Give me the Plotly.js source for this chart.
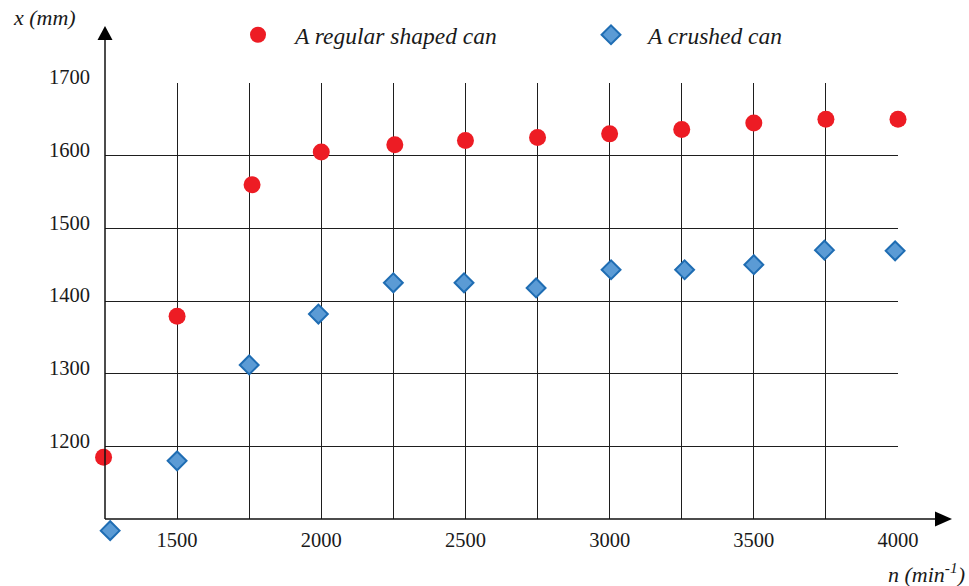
<!DOCTYPE html>
<html>
<head>
<meta charset="utf-8">
<script src="https://cdn.plot.ly/plotly-3.0.1.min.js"></script>
<style>html,body{margin:0;padding:0;background:#fff;}#chart{width:969px;height:586px;}</style>
</head>
<body>
<div id="chart"></div>
<script>
// Data
const seriesNames = ["A regular shaped can", "A crushed can"];
const nRegular = [1245, 1500, 1760, 2000, 2255, 2500, 2750, 3000, 3250, 3500, 3750, 4000];
const xRegular = [1185, 1379, 1560, 1605, 1615, 1621, 1625, 1630, 1636, 1645, 1650, 1650];
const nCrushed = [1268, 1500, 1750, 1990, 2250, 2495, 2745, 3005, 3260, 3500, 3745, 3990];
const xCrushed = [1084, 1180, 1312, 1382, 1425, 1425, 1418, 1443, 1443, 1450, 1470, 1469];
const xTickVals = [1500, 2000, 2500, 3000, 3500, 4000];
const yTickVals = [1200, 1300, 1400, 1500, 1600, 1700];
const xTitle = "n (min<sup>-1</sup>)";
const yTitle = "x (mm)";

const W = 969, H = 586;
// outer plotting area (paper) in pixels
const Lp = 50, Rp = 960, Tp = 20, Bp = 560;
// grid box in pixels
const gL = 105, gR = 898, gT = 83, gB = 519;
const X = p => (p - Lp) / (Rp - Lp);
const Y = p => (Bp - p) / (Bp - Tp);

const xMin = 1250, xMax = 4000, yMin = 1100, yMax = 1700;
const sx = (xMax - xMin) / (gR - gL), sy = (yMax - yMin) / (gB - gT);

const FONT = "Liberation Serif";
const GRID = "#1e1e1e";
const TXT = "#1a1a1a";

const traces = [
  // empty trace that makes the grid subplot (x, y) exist
  {type: "scatter", mode: "markers", x: [], y: [], xaxis: "x", yaxis: "y",
   showlegend: false, hoverinfo: "skip"},
  {
    type: "scatter", mode: "markers", name: seriesNames[0],
    x: nRegular, y: xRegular, xaxis: "x2", yaxis: "y2",
    marker: {symbol: "circle", size: 17, color: "#ed1c24", line: {width: 0}}
  },
  {
    type: "scatter", mode: "markers", name: seriesNames[1],
    x: nCrushed, y: xCrushed, xaxis: "x2", yaxis: "y2",
    marker: {symbol: "diamond", size: 14.5, color: "#5b9bd5", line: {width: 2, color: "#1f6db3"}}
  }
];

const layout = {
  width: W, height: H,
  margin: {l: Lp, r: W - Rp, t: Tp, b: H - Bp, pad: 0},
  paper_bgcolor: "#fff", plot_bgcolor: "rgba(0,0,0,0)",
  font: {family: FONT, size: 21, color: TXT},
  showlegend: true,
  legend: {
    orientation: "h", x: X(221), y: Y(13), xanchor: "left", yanchor: "top",
    font: {family: FONT, size: 23.5, style: "italic", color: TXT},
    itemwidth: 64, entrywidth: 274, entrywidthmode: "pixels",
    bgcolor: "rgba(0,0,0,0)"
  },
  xaxis: {
    domain: [X(gL), X(gR)], anchor: "y",
    range: [xMin, xMax], autorange: false,
    tickmode: "array", tickvals: xTickVals, ticktext: xTickVals.map(String),
    showgrid: true, gridcolor: GRID, gridwidth: 1,
    minor: {tick0: 1250, dtick: 250, showgrid: true, gridcolor: GRID, gridwidth: 1, ticks: ""},
    zeroline: false, showline: false, ticks: "",
    ticklabelstandoff: 6,
    tickfont: {family: FONT, size: 20.5, color: TXT}
  },
  yaxis: {
    domain: [Y(gB), Y(gT)], anchor: "x",
    range: [yMin, yMax], autorange: false,
    tickmode: "array", tickvals: yTickVals, ticktext: yTickVals.map(String),
    showgrid: true, gridcolor: GRID, gridwidth: 1,
    zeroline: false, showline: false, ticks: "",
    ticklabelstandoff: 14, ticklabelshift: -6,
    tickfont: {family: FONT, size: 20.5, color: TXT}
  },
  xaxis2: {
    domain: [0, 1], anchor: "y2", visible: false,
    range: [xMin - (gL - Lp) * sx, xMax + (Rp - gR) * sx], autorange: false
  },
  yaxis2: {
    domain: [0, 1], anchor: "x2", visible: false,
    range: [yMin - (Bp - gB) * sy, yMax + (gT - Tp) * sy], autorange: false
  },
  shapes: [
    // y axis line and arrow
    {type: "line", xref: "paper", yref: "paper", x0: X(gL), y0: Y(gB), x1: X(gL), y1: Y(38),
     line: {color: "#111", width: 1.5}},
    {type: "path", xref: "paper", yref: "paper",
     path: `M ${X(gL - 7.5)} ${Y(40)} L ${X(gL + 7.5)} ${Y(40)} L ${X(gL)} ${Y(26)} Z`,
     fillcolor: "#000", line: {width: 0}},
    // x axis line and arrow
    {type: "line", xref: "paper", yref: "paper", x0: X(gL), y0: Y(gB), x1: X(936), y1: Y(gB),
     line: {color: "#111", width: 1.5}},
    {type: "path", xref: "paper", yref: "paper",
     path: `M ${X(935)} ${Y(gB - 7.5)} L ${X(935)} ${Y(gB + 7.5)} L ${X(952)} ${Y(gB)} Z`,
     fillcolor: "#000", line: {width: 0}}
  ],
  annotations: [
    {text: yTitle, xref: "paper", yref: "paper", x: X(11), y: Y(17),
     xanchor: "left", yanchor: "middle", showarrow: false,
     font: {family: FONT, size: 22, style: "italic", color: TXT}},
    {text: xTitle, xref: "paper", yref: "paper", x: X(886), y: Y(573),
     xanchor: "left", yanchor: "middle", showarrow: false,
     font: {family: FONT, size: 22, style: "italic", color: TXT}}
  ]
};

Plotly.newPlot("chart", traces, layout, {displayModeBar: false, responsive: false});
</script>
</body>
</html>
